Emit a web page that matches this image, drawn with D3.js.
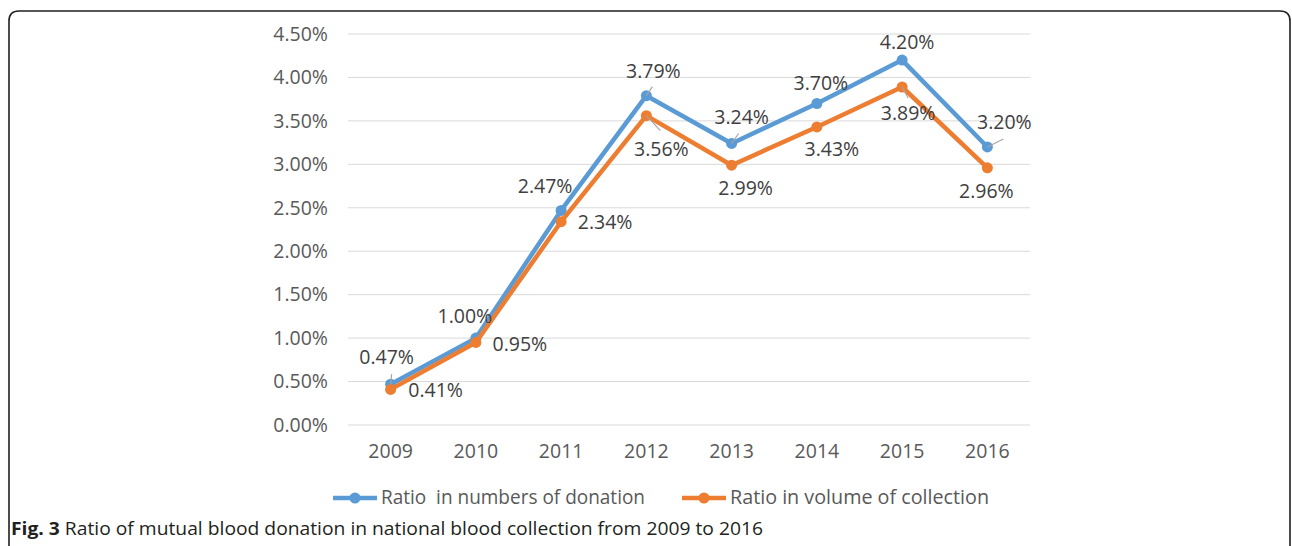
<!DOCTYPE html>
<html>
<head>
<meta charset="utf-8">
<script src="https://cdn.jsdelivr.net/npm/d3@7"></script>
<style>
  body { margin: 0; background: #fff; }
  text { font-family: "Open Sans", "Noto Sans", sans-serif; white-space: pre; }
</style>
</head>
<body>
<div id="chart"></div>
<script>
// data
const years = ["2009", "2010", "2011", "2012", "2013", "2014", "2015", "2016"];
const donationRatio = [0.47, 1.00, 2.47, 3.79, 3.24, 3.70, 4.20, 3.20];
const volumeRatio = [0.41, 0.95, 2.34, 3.56, 2.99, 3.43, 3.89, 2.96];
const yTicks = [0, 0.5, 1, 1.5, 2, 2.5, 3, 3.5, 4, 4.5];
const seriesNames = ["Ratio  in numbers of donation", "Ratio in volume of collection"];

// label placement (offset from point), and which ones get a leader line
const blueLabelOff = [[-4,-26],[-11,-21],[-16,-24],[7,-24],[10,-26],[4,-20],[5,-17],[17,-24]];
const orangeLabelOff = [[45,1],[44,2],[44,1],[15,34],[14,24],[15,23],[6,27],[-1,24]];
const blueLeader = [[1,-10],null,null,[6,-9],[7,-10],null,null,[16,-8]];
const orangeLeader = [null,null,null,[14,15],null,null,[6,11],null];

const W = 1292, H = 546;
const margin = {top: 34, left: 348, right: 262, bottom: 121};
const width = W - margin.left - margin.right;
const height = H - margin.top - margin.bottom;
const fs = 19.5;

const svg = d3.select("#chart").append("svg")
  .attr("width", W).attr("height", H);

// frame with rounded corners
svg.append("path")
  .attr("d", "M9,546 L9,21 Q9,11 19,11 L1280,11 Q1290,11 1290,21 L1290,546")
  .attr("fill", "none").attr("stroke", "#231f20").attr("stroke-width", 1.6);

const g = svg.append("g").attr("transform", `translate(${margin.left},${margin.top})`);

const x = d3.scaleBand().domain(years).range([0, width]);
const y = d3.scaleLinear().domain([0, 4.5]).range([height, 0]);
const cx = d => x(d) + x.bandwidth() / 2;

// gridlines
g.selectAll(".grid").data(yTicks).join("line")
  .attr("x1", 0).attr("x2", width)
  .attr("y1", d => y(d)).attr("y2", d => y(d))
  .attr("stroke", "#d9d9d9").attr("stroke-width", 1);

// y axis labels
const yAxis = d3.axisLeft(y).tickValues(yTicks).tickFormat(d => d.toFixed(2) + "%").tickSize(0).tickPadding(20);
g.append("g").call(yAxis)
  .call(s => s.select(".domain").remove())
  .selectAll("text").attr("font-size", fs).attr("fill", "#595959")
  .style("font-family", "'Open Sans', sans-serif");

// x axis labels
const xAxis = d3.axisBottom(x).tickSize(0).tickPadding(19);
g.append("g").attr("transform", `translate(0,${height})`).call(xAxis)
  .call(s => s.select(".domain").remove())
  .selectAll("text").attr("font-size", fs).attr("fill", "#595959")
  .style("font-family", "'Open Sans', sans-serif");

const series = [
  {vals: donationRatio, color: "#5b9bd5", off: blueLabelOff, leader: blueLeader},
  {vals: volumeRatio, color: "#ed7d31", off: orangeLabelOff, leader: orangeLeader}
];

const line = d3.line().x((d, i) => cx(years[i])).y(d => y(d));

series.forEach(s => {
  g.append("path").datum(s.vals)
    .attr("d", line).attr("fill", "none")
    .attr("stroke", s.color).attr("stroke-width", 4.5)
    .attr("stroke-linejoin", "round");
  g.selectAll(null).data(s.vals).join("circle")
    .attr("cx", (d, i) => cx(years[i])).attr("cy", d => y(d))
    .attr("r", 5.5).attr("fill", s.color);
});

// leaders and data labels
series.forEach(s => {
  s.vals.forEach((v, i) => {
    const px = cx(years[i]), py = y(v);
    if (s.leader[i]) {
      g.append("line")
        .attr("x1", px).attr("y1", py)
        .attr("x2", px + s.leader[i][0]).attr("y2", py + s.leader[i][1])
        .attr("stroke", "#a6a6a6").attr("stroke-width", 1.2);
    }
    g.append("text")
      .attr("x", px + s.off[i][0]).attr("y", py + s.off[i][1] + 1)
      .attr("text-anchor", "middle").attr("dominant-baseline", "middle")
      .attr("font-size", fs).attr("fill", "#404040")
      .text(v.toFixed(2) + "%");
  });
});

// legend
const legendX = [333, 682];
const legendTextLen = [264, 259];
series.forEach((s, i) => {
  const lg = svg.append("g").attr("transform", `translate(${legendX[i]},498)`);
  lg.append("line").attr("x1", 0).attr("x2", 44).attr("y1", 0).attr("y2", 0)
    .attr("stroke", s.color).attr("stroke-width", 4.5);
  lg.append("circle").attr("cx", 22).attr("cy", 0).attr("r", 5.5).attr("fill", s.color);
  lg.append("text").attr("x", 48).attr("y", 1).attr("dominant-baseline", "middle")
    .attr("font-size", 19.5).attr("fill", "#595959")
    .attr("textLength", legendTextLen[i]).attr("lengthAdjust", "spacingAndGlyphs")
    .text(seriesNames[i]);
});

// caption
const cap = svg.append("text").attr("x", 11).attr("y", 535).attr("font-size", 18.5).attr("fill", "#231f20")
  .attr("textLength", 752).attr("lengthAdjust", "spacingAndGlyphs");
cap.append("tspan").attr("font-weight", "bold").text("Fig. 3");
cap.append("tspan").text(" Ratio of mutual blood donation in national blood collection from 2009 to 2016");
</script>
</body>
</html>
